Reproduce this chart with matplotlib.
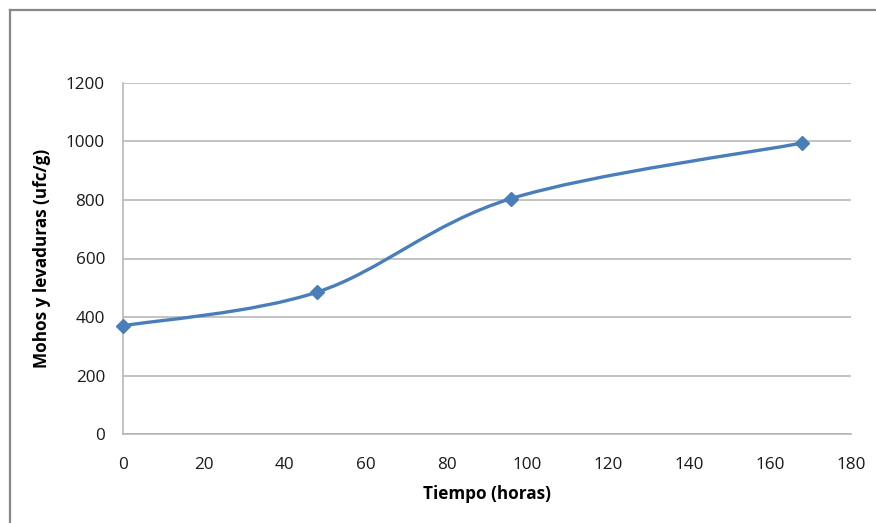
import matplotlib.pyplot as plt
import numpy as np
from matplotlib.path import Path
from matplotlib.patches import PathPatch
from matplotlib.lines import Line2D

# datos
tiempo = [0, 48, 96, 168]
mohos = [370, 485, 805, 995]
xticks = [0, 20, 40, 60, 80, 100, 120, 140, 160, 180]
yticks = [0, 200, 400, 600, 800, 1000, 1200]

plt.rcParams['font.family'] = ['Open Sans', 'DejaVu Sans']

fig = plt.figure(figsize=(8.76, 5.23), dpi=100)
ax = fig.add_axes([123/876, 1-434/523, 728/876, 351/523])

# curva suavizada tipo Excel (bezier con tangentes catmull-rom)
x = np.array(tiempo, dtype=float)
y = np.array(mohos, dtype=float)
n = len(x)
verts = [(x[0], y[0])]
codes = [Path.MOVETO]
for i in range(n-1):
    x0, y0 = (x[i-1], y[i-1]) if i > 0 else (x[i], y[i])
    x3, y3 = (x[i+2], y[i+2]) if i+2 < n else (x[i+1], y[i+1])
    c1 = (x[i] + (x[i+1]-x0)/6, y[i] + (y[i+1]-y0)/6)
    c2 = (x[i+1] - (x3-x[i])/6, y[i+1] - (y3-y[i])/6)
    verts += [c1, c2, (x[i+1], y[i+1])]
    codes += [Path.CURVE4]*3
ax.add_patch(PathPatch(Path(verts, codes), fc='none', ec='#4a7ebb', lw=2.4, zorder=3))
ax.plot(tiempo, mohos, 'D', color='#4a7ebb', ms=7.5, zorder=4, clip_on=False)

ax.set_xlim(0, 180)
ax.set_ylim(0, 1200)
ax.set_xticks(xticks)
ax.set_yticks(yticks)
ax.grid(axis='y', color='#b3b3b3', lw=1.1)
ax.set_axisbelow(True)
for s in ['top', 'right']:
    ax.spines[s].set_visible(False)
for s in ['left', 'bottom']:
    ax.spines[s].set_color('#b3b3b3')
    ax.spines[s].set_linewidth(1.1)
ax.tick_params(length=0, labelsize=12.3, colors='#1a1a1a')
ax.tick_params(axis='x', pad=16.5)
ax.tick_params(axis='y', pad=13)
ax.set_xlabel('Tiempo (horas)', fontsize=12.3, fontweight='bold', labelpad=9)
ax.set_ylabel('Mohos y levaduras (ufc/g)', fontsize=12.3, fontweight='bold', labelpad=11)

# marco exterior
fig.add_artist(Line2D([9.5/876, 9.5/876], [0, 1-9.5/523], color='#888888', lw=1.6))
fig.add_artist(Line2D([9.5/876, 1], [1-9.5/523, 1-9.5/523], color='#888888', lw=1.6))

fig.savefig('out.png', dpi=100)
